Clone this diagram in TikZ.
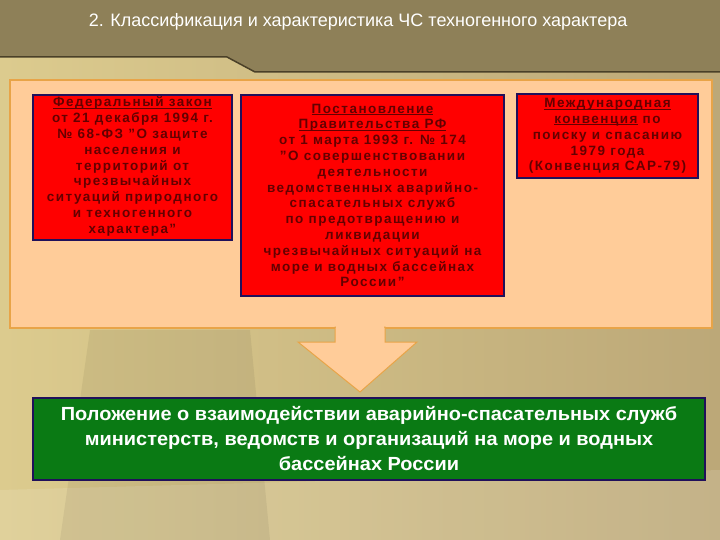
\documentclass[tikz,border=0pt]{standalone}
\usepackage{fontspec}
\setmainfont{Liberation Sans}
\usetikzlibrary{shapes.geometric}
\definecolor{hdr}{HTML}{8E8058}
\definecolor{hdrline}{HTML}{4A4028}
\definecolor{bgl}{HTML}{DCCB8E}
\definecolor{bgr}{HTML}{BCA878}
\definecolor{peach}{HTML}{FFCC99}
\definecolor{peachedge}{HTML}{E8A448}
\definecolor{boxred}{HTML}{FF0000}
\definecolor{navy}{HTML}{20105A}
\definecolor{dred}{HTML}{640000}
\definecolor{grn}{HTML}{0A7A14}
\newcommand\myul[1]{{\setbox0\hbox{#1}\rlap{\rule[-1.8pt]{\wd0}{0.8pt}}\box0}}
\tikzset{
  redbox/.style={draw=navy, line width=1.6pt, fill=boxred, inner sep=0pt},
  redtxt/.style={text=dred, font=\bfseries\fontsize{13.5}{15.8}\selectfont\addfontfeature{LetterSpace=11}, align=center},
}
\begin{document}
\begin{tikzpicture}[x=1pt,y=-1pt]
\useasboundingbox (0,0) rectangle (720,540);
% background
\shade[left color=bgl, right color=bgr] (0,0) rectangle (720,540);
\fill[white, opacity=0.12] (0,490) -- (720,470) -- (720,540) -- (0,540) -- cycle;
\fill[black, opacity=0.06] (90,330) -- (250,330) -- (270,540) -- (60,540) -- cycle;
% header
\fill[hdr] (0,0) -- (720,0) -- (720,72) -- (255,72) -- (227,57) -- (0,57) -- cycle;
\draw[hdrline, line width=1.5pt] (0,57) -- (227,57) -- (255,72) -- (720,72);
\node[text=white, font=\fontsize{18}{21}\selectfont, xscale=1.0] (title) at (358,22) {2. Классификация и характеристика ЧС техногенного характера};
% panel
\node[draw=peachedge, line width=1.2pt, fill=peach, minimum width=702pt, minimum height=248pt, inner sep=0pt] (panel) at (361,204) {};
% arrow
\fill[peach, draw=peachedge, line width=1pt] (335,327) -- (385,327) -- (385,342) -- (417,342) -- (360,392) -- (298,342) -- (335,342) -- cycle;
\fill[peach] (336,320) rectangle (384,330);
% boxes
\node[redbox, minimum width=199pt, minimum height=145pt] (b1) at (132.5,167.5) {};
\node[redtxt] (t1) at ([yshift=1pt]b1.center) {\myul{Федеральный закон}\\от 21 декабря 1994 г.\\№ 68-ФЗ "О защите\\населения и\\территорий от\\чрезвычайных\\ситуаций природного\\и техногенного\\характера"};
\node[redbox, minimum width=263pt, minimum height=201pt] (b2) at (372.5,195.5) {};
\node[redtxt] (t2) at (b2.center) {\myul{Постановление}\\\myul{Правительства РФ}\\от 1 марта 1993 г. № 174\\"О совершенствовании\\деятельности\\ведомственных аварийно-\\спасательных служб\\по предотвращению и\\ликвидации\\чрезвычайных ситуаций на\\море и водных бассейнах\\России"};
\node[redbox, minimum width=181pt, minimum height=84pt] (b3) at (607.5,136) {};
\node[redtxt] (t3) at (b3.center) {\myul{Международная}\\\myul{конвенция} по\\поиску и спасанию\\1979 года\\(Конвенция САР-79)};
% green box
\node[draw=navy, line width=1.6pt, fill=grn, minimum width=672pt, minimum height=82pt, inner sep=0pt] (g) at (369,439) {};
\node[text=white, font=\bfseries\fontsize{19}{25}\selectfont, align=center, xscale=1.05] (gt) at (g.center) {Положение о взаимодействии аварийно-спасательных служб\\министерств, ведомств и организаций на море и водных\\бассейнах России};
\end{tikzpicture}
\end{document}
